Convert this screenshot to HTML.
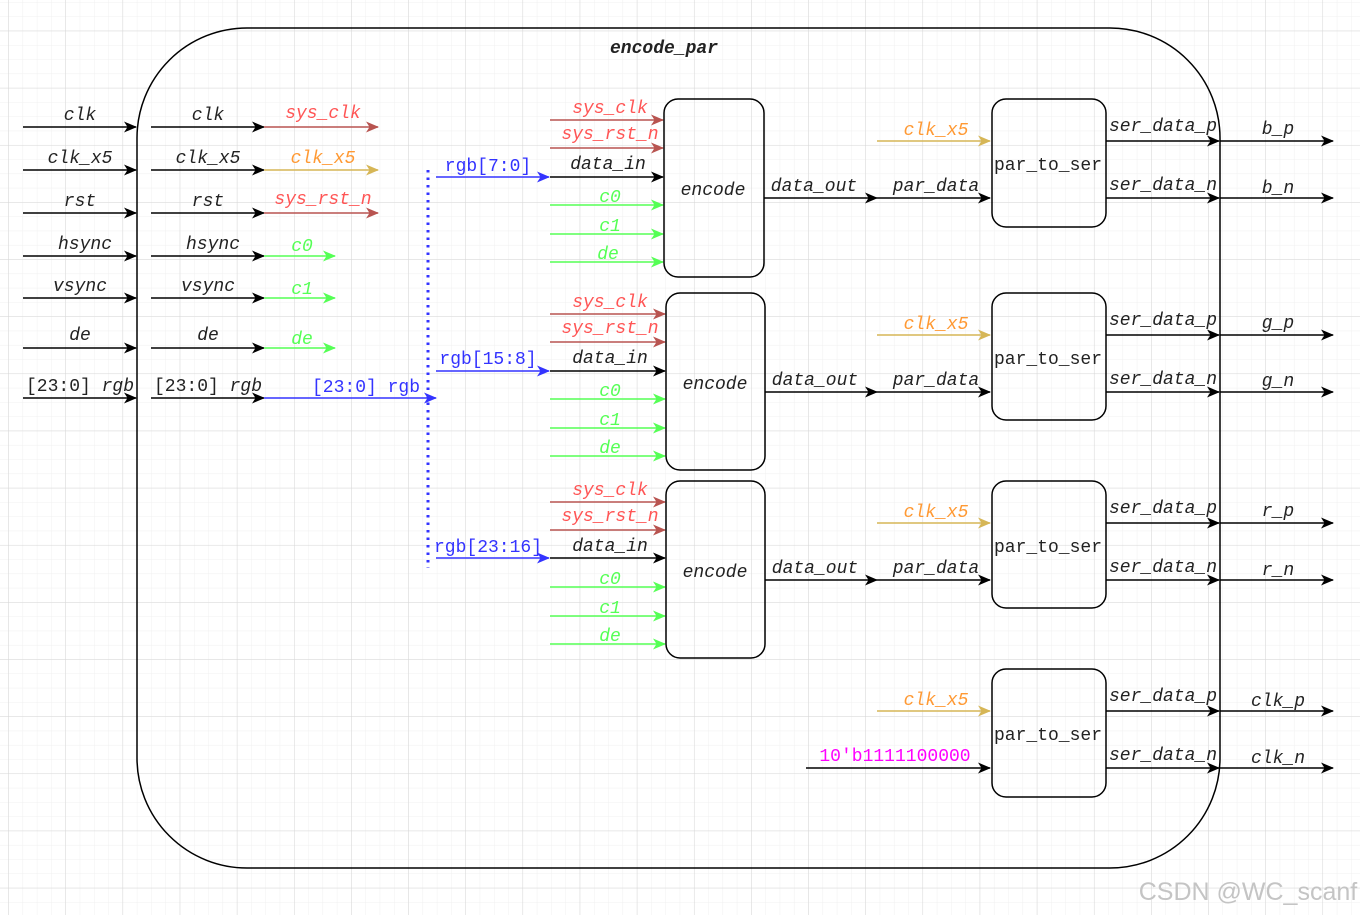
<!DOCTYPE html>
<html><head><meta charset="utf-8"><style>
html,body{margin:0;padding:0;background:#fff}
svg{display:block}
text{font-family:"Liberation Mono","DejaVu Sans Mono",monospace;font-style:italic;font-size:18px;text-anchor:middle}
.u{font-style:normal}
</style></head><body>
<svg width="1360" height="915" viewBox="0 0 1360 915" xmlns="http://www.w3.org/2000/svg">
<defs>
<pattern id="mi" x="8.3" y="30.7" width="14.285" height="14.285" patternUnits="userSpaceOnUse"><path d="M0 0H14.285M0 0V14.285" stroke="#f0f0f0" stroke-width="1" fill="none"/></pattern>
<pattern id="ma" x="8.3" y="30.7" width="57.14" height="57.14" patternUnits="userSpaceOnUse"><path d="M0 0H57.14M0 0V57.14" stroke="#d6d6d6" stroke-width="1" fill="none"/></pattern>
<marker id="ak" markerWidth="13" markerHeight="11" refX="12" refY="5.5" orient="auto" markerUnits="userSpaceOnUse"><path d="M0 0L13 5.5L0 11L3.5 5.5z" fill="#000"/></marker>
<marker id="ar" markerWidth="13" markerHeight="11" refX="12" refY="5.5" orient="auto" markerUnits="userSpaceOnUse"><path d="M0 0L13 5.5L0 11L3.5 5.5z" fill="#b85450"/></marker>
<marker id="ao" markerWidth="13" markerHeight="11" refX="12" refY="5.5" orient="auto" markerUnits="userSpaceOnUse"><path d="M0 0L13 5.5L0 11L3.5 5.5z" fill="#d6b656"/></marker>
<marker id="ag" markerWidth="13" markerHeight="11" refX="12" refY="5.5" orient="auto" markerUnits="userSpaceOnUse"><path d="M0 0L13 5.5L0 11L3.5 5.5z" fill="#55ff55"/></marker>
<marker id="ab" markerWidth="13" markerHeight="11" refX="12" refY="5.5" orient="auto" markerUnits="userSpaceOnUse"><path d="M0 0L13 5.5L0 11L3.5 5.5z" fill="#3333ff"/></marker>
</defs>
<rect width="1360" height="915" fill="url(#mi)"/>
<rect width="1360" height="915" fill="url(#ma)"/>
<rect x="137" y="28" width="1083" height="840" rx="110" ry="110" fill="none" stroke="#000" stroke-width="1.5"/>
<text x="664" y="53" style="font-weight:bold" fill="#222">encode_par</text>

<g stroke-width="1.5" fill="none">
<g stroke="#000" marker-end="url(#ak)">
<path d="M23 127H136"/><path d="M23 170H136"/><path d="M23 213H136"/><path d="M23 256H136"/><path d="M23 298H136"/><path d="M23 348H136"/><path d="M23 398H136"/>
<path d="M151 127H264"/><path d="M151 170H264"/><path d="M151 213H264"/><path d="M151 256H264"/><path d="M151 298H264"/><path d="M151 348H264"/><path d="M151 398H264"/>
</g>
<path d="M264 127H378" stroke="#b85450" marker-end="url(#ar)"/>
<path d="M264 170H378" stroke="#d6b656" marker-end="url(#ao)"/>
<path d="M264 213H378" stroke="#b85450" marker-end="url(#ar)"/>
<path d="M264 256H335" stroke="#55ff55" marker-end="url(#ag)"/>
<path d="M264 298H335" stroke="#55ff55" marker-end="url(#ag)"/>
<path d="M264 348H335" stroke="#55ff55" marker-end="url(#ag)"/>
<path d="M264 398H436" stroke="#3333ff" marker-end="url(#ab)"/>
<path d="M428 170V568" stroke="#3333ff" stroke-width="3" stroke-dasharray="2.5 5"/>
<path d="M436 177H549" stroke="#3333ff" marker-end="url(#ab)"/>
<path d="M436 371H549" stroke="#3333ff" marker-end="url(#ab)"/>
<path d="M436 558H549" stroke="#3333ff" marker-end="url(#ab)"/>
</g>
<g fill="#222">
<text x="80" y="120">clk</text><text x="80" y="163">clk_x5</text><text x="80" y="206">rst</text><text x="85" y="249">hsync</text><text x="80" y="291">vsync</text><text x="80" y="340">de</text><text x="80" y="391"><tspan class="u">[23:0]</tspan> rgb</text>
<text x="208" y="120">clk</text><text x="208" y="163">clk_x5</text><text x="208" y="206">rst</text><text x="213" y="249">hsync</text><text x="208" y="291">vsync</text><text x="208" y="340">de</text><text x="208" y="391"><tspan class="u">[23:0]</tspan> rgb</text>
</g>
<text x="323" y="118" fill="#ff5555">sys_clk</text>
<text x="323" y="163" fill="#ff9933">clk_x5</text>
<text x="323" y="204" fill="#ff5555">sys_rst_n</text>
<text x="302" y="251" fill="#55ff55">c0</text>
<text x="302" y="294" fill="#55ff55">c1</text>
<text x="302" y="344" fill="#55ff55">de</text>
<text x="366" y="392" fill="#3333ff" class="u">[23:0] rgb</text>
<text x="488" y="171" fill="#3333ff" class="u">rgb[7:0]</text>
<text x="488" y="364" fill="#3333ff" class="u">rgb[15:8]</text>
<text x="488" y="552" fill="#3333ff" class="u">rgb[23:16]</text>

<g stroke-width="1.5" fill="none">
<path d="M550 120H663" stroke="#b85450" marker-end="url(#ar)"/>
<path d="M550 148H663" stroke="#b85450" marker-end="url(#ar)"/>
<path d="M550 177H663" stroke="#000" marker-end="url(#ak)"/>
<path d="M550 205H663" stroke="#55ff55" marker-end="url(#ag)"/>
<path d="M550 234H663" stroke="#55ff55" marker-end="url(#ag)"/>
<path d="M550 262H663" stroke="#55ff55" marker-end="url(#ag)"/>
<rect x="664" y="99" width="100" height="178" rx="14" stroke="#000"/>
<path d="M764 198H877" stroke="#000" marker-end="url(#ak)"/>
<path d="M877 198H990" stroke="#000" marker-end="url(#ak)"/>
<path d="M877 141H990" stroke="#d6b656" marker-end="url(#ao)"/>
<rect x="992" y="99" width="114" height="128" rx="14" stroke="#000"/>
<path d="M1106 141H1219" stroke="#000" marker-end="url(#ak)"/>
<path d="M1106 198H1219" stroke="#000" marker-end="url(#ak)"/>
<path d="M1220 141H1333" stroke="#000" marker-end="url(#ak)"/>
<path d="M1220 198H1333" stroke="#000" marker-end="url(#ak)"/>
</g>
<text x="610" y="113" fill="#ff5555">sys_clk</text>
<text x="610" y="139" fill="#ff5555">sys_rst_n</text>
<text x="608" y="169" fill="#222">data_in</text>
<text x="610" y="202" fill="#55ff55">c0</text>
<text x="610" y="231" fill="#55ff55">c1</text>
<text x="608" y="259" fill="#55ff55">de</text>
<text x="713" y="195" fill="#222">encode</text>
<text x="814" y="191" fill="#222">data_out</text>
<text x="936" y="191" fill="#222">par_data</text>
<text x="936" y="135" fill="#ff9933">clk_x5</text>
<text x="1048" y="170" fill="#222" class="u">par_to_ser</text>
<text x="1163" y="131" fill="#222">ser_data_p</text>
<text x="1163" y="190" fill="#222">ser_data_n</text>
<text x="1278" y="134" fill="#222">b_p</text>
<text x="1278" y="193" fill="#222">b_n</text>

<g stroke-width="1.5" fill="none">
<path d="M550 314H665" stroke="#b85450" marker-end="url(#ar)"/>
<path d="M550 342H665" stroke="#b85450" marker-end="url(#ar)"/>
<path d="M550 371H665" stroke="#000" marker-end="url(#ak)"/>
<path d="M550 399H665" stroke="#55ff55" marker-end="url(#ag)"/>
<path d="M550 428H665" stroke="#55ff55" marker-end="url(#ag)"/>
<path d="M550 456H665" stroke="#55ff55" marker-end="url(#ag)"/>
<rect x="666" y="293" width="99" height="177" rx="14" stroke="#000"/>
<path d="M765 392H877" stroke="#000" marker-end="url(#ak)"/>
<path d="M877 392H990" stroke="#000" marker-end="url(#ak)"/>
<path d="M877 335H990" stroke="#d6b656" marker-end="url(#ao)"/>
<rect x="992" y="293" width="114" height="127" rx="14" stroke="#000"/>
<path d="M1106 335H1219" stroke="#000" marker-end="url(#ak)"/>
<path d="M1106 392H1219" stroke="#000" marker-end="url(#ak)"/>
<path d="M1220 335H1333" stroke="#000" marker-end="url(#ak)"/>
<path d="M1220 392H1333" stroke="#000" marker-end="url(#ak)"/>
</g>
<text x="610" y="307" fill="#ff5555">sys_clk</text>
<text x="610" y="333" fill="#ff5555">sys_rst_n</text>
<text x="610" y="363" fill="#222">data_in</text>
<text x="610" y="396" fill="#55ff55">c0</text>
<text x="610" y="425" fill="#55ff55">c1</text>
<text x="610" y="453" fill="#55ff55">de</text>
<text x="715" y="389" fill="#222">encode</text>
<text x="815" y="385" fill="#222">data_out</text>
<text x="936" y="385" fill="#222">par_data</text>
<text x="936" y="329" fill="#ff9933">clk_x5</text>
<text x="1048" y="364" fill="#222" class="u">par_to_ser</text>
<text x="1163" y="325" fill="#222">ser_data_p</text>
<text x="1163" y="384" fill="#222">ser_data_n</text>
<text x="1278" y="328" fill="#222">g_p</text>
<text x="1278" y="386" fill="#222">g_n</text>

<g stroke-width="1.5" fill="none">
<path d="M550 502H665" stroke="#b85450" marker-end="url(#ar)"/>
<path d="M550 530H665" stroke="#b85450" marker-end="url(#ar)"/>
<path d="M550 558H665" stroke="#000" marker-end="url(#ak)"/>
<path d="M550 587H665" stroke="#55ff55" marker-end="url(#ag)"/>
<path d="M550 616H665" stroke="#55ff55" marker-end="url(#ag)"/>
<path d="M550 644H665" stroke="#55ff55" marker-end="url(#ag)"/>
<rect x="666" y="481" width="99" height="177" rx="14" stroke="#000"/>
<path d="M765 580H877" stroke="#000" marker-end="url(#ak)"/>
<path d="M877 580H990" stroke="#000" marker-end="url(#ak)"/>
<path d="M877 523H990" stroke="#d6b656" marker-end="url(#ao)"/>
<rect x="992" y="481" width="114" height="127" rx="14" stroke="#000"/>
<path d="M1106 523H1219" stroke="#000" marker-end="url(#ak)"/>
<path d="M1106 580H1219" stroke="#000" marker-end="url(#ak)"/>
<path d="M1220 523H1333" stroke="#000" marker-end="url(#ak)"/>
<path d="M1220 580H1333" stroke="#000" marker-end="url(#ak)"/>
</g>
<text x="610" y="495" fill="#ff5555">sys_clk</text>
<text x="610" y="521" fill="#ff5555">sys_rst_n</text>
<text x="610" y="551" fill="#222">data_in</text>
<text x="610" y="584" fill="#55ff55">c0</text>
<text x="610" y="613" fill="#55ff55">c1</text>
<text x="610" y="641" fill="#55ff55">de</text>
<text x="715" y="577" fill="#222">encode</text>
<text x="815" y="573" fill="#222">data_out</text>
<text x="936" y="573" fill="#222">par_data</text>
<text x="936" y="517" fill="#ff9933">clk_x5</text>
<text x="1048" y="552" fill="#222" class="u">par_to_ser</text>
<text x="1163" y="513" fill="#222">ser_data_p</text>
<text x="1163" y="572" fill="#222">ser_data_n</text>
<text x="1278" y="516" fill="#222">r_p</text>
<text x="1278" y="575" fill="#222">r_n</text>

<g stroke-width="1.5" fill="none">
<path d="M806 768H990" stroke="#000" marker-end="url(#ak)"/>
<path d="M877 711H990" stroke="#d6b656" marker-end="url(#ao)"/>
<rect x="992" y="669" width="114" height="128" rx="14" stroke="#000"/>
<path d="M1106 711H1219" stroke="#000" marker-end="url(#ak)"/>
<path d="M1106 768H1219" stroke="#000" marker-end="url(#ak)"/>
<path d="M1220 711H1333" stroke="#000" marker-end="url(#ak)"/>
<path d="M1220 768H1333" stroke="#000" marker-end="url(#ak)"/>
</g>
<text x="895" y="761" fill="#ff00ff" class="u">10'b1111100000</text>
<text x="936" y="705" fill="#ff9933">clk_x5</text>
<text x="1048" y="740" fill="#222" class="u">par_to_ser</text>
<text x="1163" y="701" fill="#222">ser_data_p</text>
<text x="1163" y="760" fill="#222">ser_data_n</text>
<text x="1278" y="706" fill="#222">clk_p</text>
<text x="1278" y="763" fill="#222">clk_n</text>

<text x="1248" y="900" fill="#c4c4c4" style="font-family:'Liberation Sans',sans-serif;font-style:normal;font-size:25px">CSDN @WC_scanf</text>
</svg>
</body></html>
